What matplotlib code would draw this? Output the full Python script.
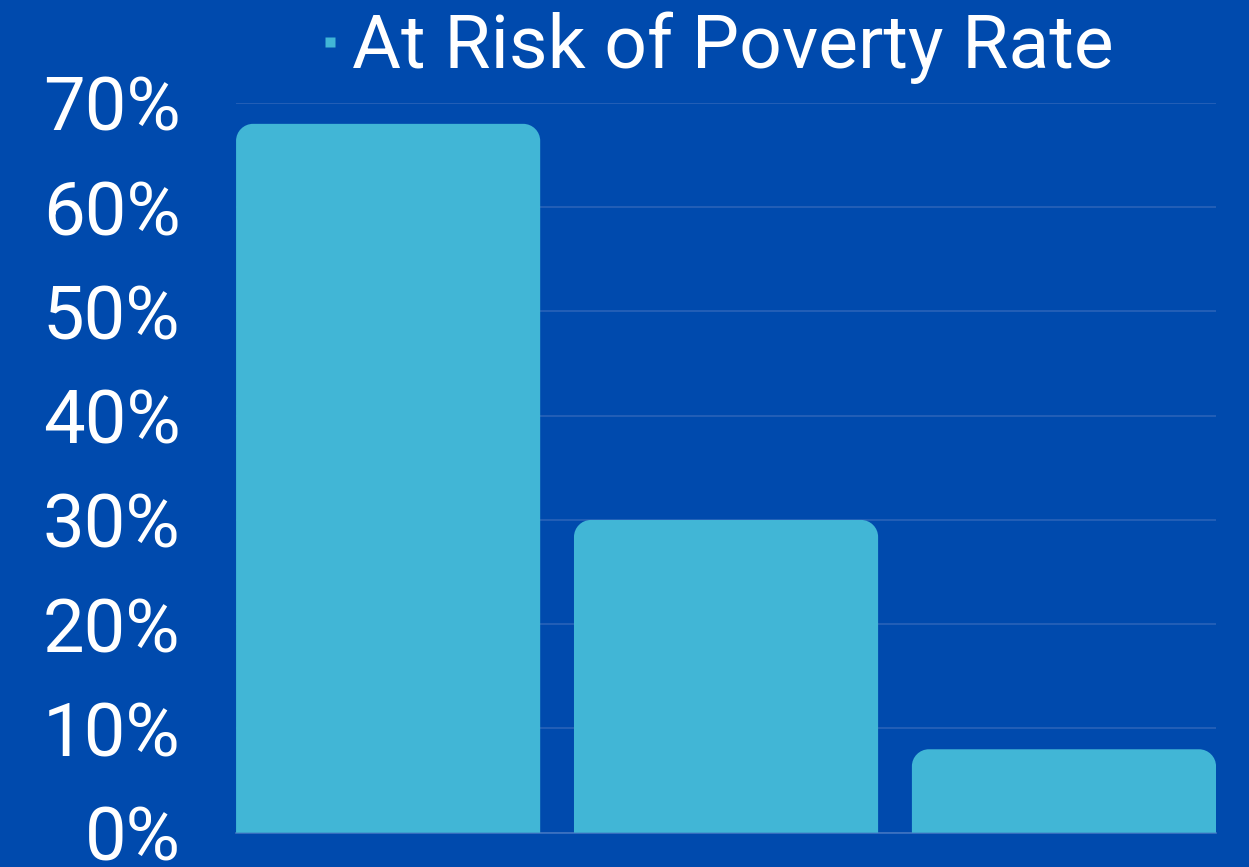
import matplotlib.pyplot as plt
from matplotlib.path import Path
from matplotlib.patches import PathPatch
from matplotlib.lines import Line2D
from matplotlib.ticker import PercentFormatter

categories = ["A", "B", "C"]
poverty_rate = [68, 30, 8]
yticks = [0, 10, 20, 30, 40, 50, 60, 70]

bg = "#004aad"
bar_color = "#41b6d6"
grid_color = "#2a63b9"

plt.rcParams["font.family"] = ["Roboto", "DejaVu Sans"]

fig = plt.figure(figsize=(12.49, 8.67), dpi=100, facecolor=bg)
ax = fig.add_axes([0.189, 0.0396, 0.7846, 0.8416], facecolor=bg)

x = range(len(categories))
bars = ax.bar(x, poverty_rate, width=0.9, color=bar_color)
ax.set_xlim(-0.45, len(categories) - 0.55)
ax.set_ylim(0, 70)


def rounded_top(patch, r_px=17):
    # swap a plain bar for one with rounded top corners
    x0, y0 = patch.get_x(), patch.get_y()
    w, h = patch.get_width(), patch.get_height()
    bb = ax.get_window_extent()
    rx = r_px * (ax.get_xlim()[1] - ax.get_xlim()[0]) / bb.width
    ry = r_px * (ax.get_ylim()[1] - ax.get_ylim()[0]) / bb.height
    k = 0.5523
    verts = [
        (x0, y0), (x0, y0 + h - ry),
        (x0, y0 + h - ry + k * ry), (x0 + rx - k * rx, y0 + h), (x0 + rx, y0 + h),
        (x0 + w - rx, y0 + h),
        (x0 + w - rx + k * rx, y0 + h), (x0 + w, y0 + h - ry + k * ry), (x0 + w, y0 + h - ry),
        (x0 + w, y0), (x0, y0),
    ]
    codes = [Path.MOVETO, Path.LINETO,
             Path.CURVE4, Path.CURVE4, Path.CURVE4,
             Path.LINETO,
             Path.CURVE4, Path.CURVE4, Path.CURVE4,
             Path.LINETO, Path.CLOSEPOLY]
    ax.add_patch(PathPatch(Path(verts, codes), facecolor=patch.get_facecolor(),
                           edgecolor="none", zorder=3))
    patch.set_visible(False)


for b in bars:
    rounded_top(b)

ax.set_yticks(yticks)
ax.yaxis.set_major_formatter(PercentFormatter(decimals=0))
ax.tick_params(axis="y", length=0, pad=40, labelsize=53.5, labelcolor="white")
ax.set_xticks([])
ax.grid(axis="y", color=grid_color, linewidth=1.2)
ax.set_axisbelow(True)
for side in ["top", "right", "left"]:
    ax.spines[side].set_visible(False)
ax.spines["bottom"].set_color("#3f74c2")
ax.spines["bottom"].set_linewidth(1.2)

handle = Line2D([], [], marker="s", linestyle="none", markersize=7.5,
                markerfacecolor=bar_color, markeredgecolor="none")
leg = ax.legend([handle], ["At Risk of Poverty Rate"], loc="lower center",
                bbox_to_anchor=(0.49, 0.974), frameon=False, fontsize=54,
                handlelength=0.3, handletextpad=0.15, borderpad=0,
                labelcolor="white")

fig.savefig("out.png", dpi=100, facecolor=bg)
